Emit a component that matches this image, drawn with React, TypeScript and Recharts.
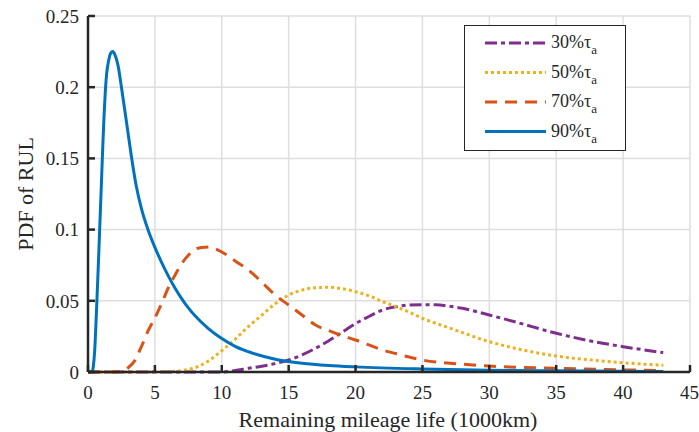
import React from 'react';
import { LineChart, Line, XAxis, YAxis, CartesianGrid, Legend } from 'recharts';

const xTicks = [0, 5, 10, 15, 20, 25, 30, 35, 40, 45];
const yTicks = [0, 0.05, 0.1, 0.15, 0.2, 0.25];

const x30 = [0, 5, 10, 11, 12, 13, 14, 15, 16, 17, 18, 19, 20, 21, 22, 23, 24, 25, 26, 27, 28, 30, 32, 35, 38, 40, 43];
const y30 = [0, 0, 0, 0.001, 0.0026, 0.004, 0.006, 0.0084, 0.012, 0.0166, 0.022, 0.028, 0.034, 0.039, 0.0435, 0.0458, 0.047, 0.0473, 0.0472, 0.0462, 0.0447, 0.04, 0.035, 0.0272, 0.021, 0.0178, 0.0136];

const x50 = [0, 5, 6, 7, 8, 9, 10, 11, 12, 13, 14, 15, 16, 17, 18, 19, 20, 21, 22, 23, 24, 25, 27, 30, 33, 35, 38, 40, 43];
const y50 = [0, 0, 0.0003, 0.001, 0.003, 0.0078, 0.015, 0.023, 0.032, 0.04, 0.048, 0.054, 0.0575, 0.0592, 0.0595, 0.0585, 0.0564, 0.0535, 0.0495, 0.046, 0.042, 0.0377, 0.031, 0.0213, 0.0145, 0.0112, 0.0081, 0.0065, 0.0047];

const x70 = [0, 2, 2.5, 3, 3.5, 4, 4.5, 5, 5.5, 6, 6.5, 7, 7.5, 8, 8.5, 9, 9.5, 10, 11, 12, 13, 14, 15, 16, 17, 18, 19, 20, 21, 22, 23, 24, 25, 28, 30, 35, 40, 43];
const y70 = [0, 0, 0.0005, 0.003, 0.008, 0.018, 0.029, 0.038, 0.048, 0.059, 0.068, 0.076, 0.082, 0.086, 0.0875, 0.0878, 0.0865, 0.0843, 0.078, 0.0716, 0.063, 0.054, 0.047, 0.04, 0.033, 0.029, 0.0255, 0.0225, 0.019, 0.0155, 0.013, 0.0105, 0.0084, 0.0055, 0.0042, 0.0026, 0.0015, 0.001];

const x90 = [0, 0.3, 0.4, 0.5, 0.6, 0.7, 0.8, 0.9, 1.0, 1.1, 1.2, 1.3, 1.4, 1.55, 1.7, 1.85, 2.0, 2.25, 2.5, 2.9, 3.25, 3.6, 4.0, 4.5, 5, 5.5, 6, 6.5, 7, 7.5, 8, 9, 10, 11, 12, 14, 16, 18, 20, 25, 30, 35, 40, 43];
const y90 = [0, 0, 0.004, 0.015, 0.035, 0.058, 0.082, 0.107, 0.132, 0.157, 0.18, 0.198, 0.21, 0.219, 0.224, 0.225, 0.223, 0.215, 0.2, 0.174, 0.151, 0.131, 0.1145, 0.0995, 0.0875, 0.077, 0.0675, 0.059, 0.0515, 0.045, 0.0395, 0.0305, 0.0235, 0.018, 0.0142, 0.009, 0.0062, 0.0046, 0.0036, 0.0021, 0.0012, 0.0008, 0.0005, 0.0004];

const seriesNames = ['30%', '50%', '70%', '90%'];
const seriesColors = ['#7E2F8E', '#EDB120', '#D95319', '#0072BD'];
const seriesDash = ['12 4 4 4', '3 3', '12 8', undefined];
const seriesX = [x30, x50, x70, x90];
const seriesY = [y30, y50, y70, y90];

const FONT = "'Liberation Serif', 'Times New Roman', serif";
const AXIS = '#262626';

const renderLegend = () => (
  <svg width={162} height={126} style={{ display: 'block' }}>
    <rect x={0.5} y={0.5} width={161} height={125} fill="#fff" stroke={AXIS} strokeWidth={1} />
    {seriesNames.map((n, i) => {
      const cy = 18 + i * 29.5;
      return (
        <g key={n}>
          <line x1={21} x2={82} y1={cy} y2={cy} stroke={seriesColors[i]} strokeWidth={3} strokeDasharray={seriesDash[i]} />
          <text x={87} y={cy + 5} fontFamily={FONT} fontSize={18} fill={AXIS}>
            {n}τ<tspan fontSize={13} dy={6}>a</tspan>
          </text>
        </g>
      );
    })}
  </svg>
);

export default function App() {
  return (
    <div style={{ position: 'absolute', left: 0, top: 0, width: 699, height: 432, background: '#fff' }}>
      <LineChart width={699} height={432} margin={{ top: 16, right: 9, bottom: 30, left: 28 }}>
        <CartesianGrid stroke="#dedede" strokeWidth={1.5} />
        <XAxis
          type="number"
          dataKey="x"
          domain={[0, 45]}
          ticks={xTicks}
          allowDataOverflow
          height={30}
          tickSize={-7}
          tickMargin={21}
          axisLine={{ stroke: AXIS, strokeWidth: 2.5 }}
          tickLine={{ stroke: AXIS, strokeWidth: 2.5 }}
          tick={{ fontFamily: FONT, fontSize: 19, fill: AXIS }}
          label={{
            content: (p: any) => {
              const vb = p.viewBox;
              return (
                <text x={vb.x + vb.width / 2 - 1} y={427} textAnchor="middle" fontFamily={FONT} fontSize={22} fill={AXIS}>
                  Remaining mileage life (1000km)
                </text>
              );
            },
          }}
        />
        <YAxis
          type="number"
          domain={[0, 0.25]}
          ticks={yTicks}
          width={60}
          tickSize={-7}
          tickMargin={16}
          axisLine={{ stroke: AXIS, strokeWidth: 2.5 }}
          tickLine={{ stroke: AXIS, strokeWidth: 2.5 }}
          tick={{ fontFamily: FONT, fontSize: 19, fill: AXIS }}
          label={{
            content: (p: any) => {
              const vb = p.viewBox;
              const cy = vb.y + vb.height / 2;
              return (
                <text x={33} y={cy} transform={`rotate(-90 33 ${cy})`} textAnchor="middle" fontFamily={FONT} fontSize={22} fill={AXIS}>
                  PDF of RUL
                </text>
              );
            },
          }}
        />
        <Legend
          layout="horizontal"
          verticalAlign="middle"
          align="center"
          content={renderLegend}
          wrapperStyle={{ position: 'absolute', left: 464, top: 25, width: 162, height: 126 }}
        />
        {seriesNames.map((n, i) => (
          <Line
            key={n}
            data={seriesX[i].map((x, j) => ({ x, y: seriesY[i][j] }))}
            dataKey="y"
            name={n}
            type="monotone"
            stroke={seriesColors[i]}
            strokeWidth={3}
            strokeDasharray={seriesDash[i]}
            dot={false}
            activeDot={false}
            isAnimationActive={false}
          />
        ))}
      </LineChart>
    </div>
  );
}
